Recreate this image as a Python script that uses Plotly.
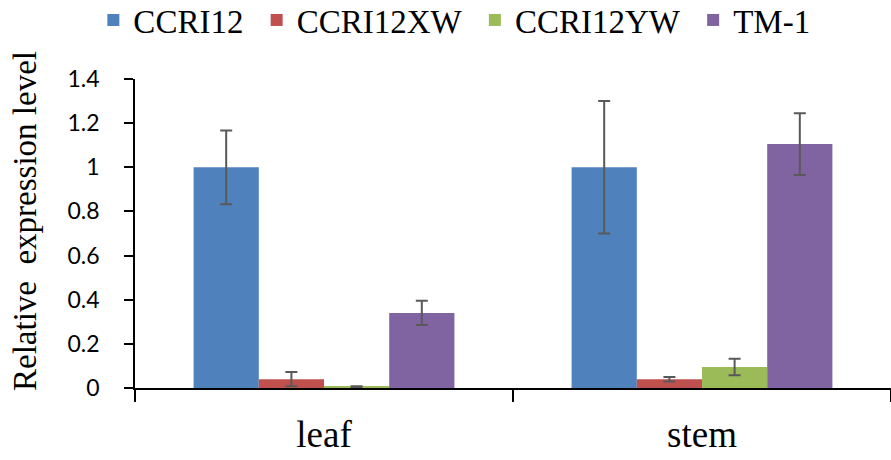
import plotly.graph_objects as go

categories = ["leaf", "stem"]
series_names = ["CCRI12", "CCRI12XW", "CCRI12YW", "TM-1"]
values = {
    "CCRI12": [1.0, 1.0],
    "CCRI12XW": [0.04, 0.04],
    "CCRI12YW": [0.005, 0.095],
    "TM-1": [0.34, 1.105],
}
errors = {
    "CCRI12": [0.167, 0.30],
    "CCRI12XW": [0.032, 0.01],
    "CCRI12YW": [0.003, 0.037],
    "TM-1": [0.055, 0.14],
}
colors = {
    "CCRI12": "#4F81BD",
    "CCRI12XW": "#C0504D",
    "CCRI12YW": "#9BBB59",
    "TM-1": "#8064A2",
}
y_ticks = [0, 0.2, 0.4, 0.6, 0.8, 1.0, 1.2, 1.4]
y_tick_labels = ["0", "0.2", "0.4", "0.6", "0.8", "1", "1.2", "1.4"]
y_title = "Relative  expression level"

SERIF = "Liberation Serif, Times New Roman, serif"

fig = go.Figure()
for name in series_names:
    fig.add_trace(go.Bar(
        name=name + "\u00a0",
        x=categories,
        y=values[name],
        marker=dict(color=colors[name], line=dict(width=0)),
        error_y=dict(type="data", array=errors[name], color="#595959",
                     thickness=2, width=6, visible=True),
    ))

fig.update_layout(
    width=891, height=460,
    barmode="group",
    bargap=0.31,
    bargroupgap=0,
    plot_bgcolor="white",
    paper_bgcolor="white",
    margin=dict(l=135, r=0, t=79, b=72, autoexpand=False),
    showlegend=True,
    legend=dict(
        orientation="h",
        xref="container", yref="container",
        x=0.515, y=1 - 20 / 460, xanchor="center", yanchor="middle",
        font=dict(family=SERIF, size=33, color="black"),
        itemwidth=30,
        tracegroupgap=0,
    ),
    xaxis=dict(
        type="category",
        range=[-0.5, 1.5],
        automargin=False,
        showline=True, linecolor="black", linewidth=2,
        ticks="outside", tickson="boundaries", ticklen=12, tickcolor="black", tickwidth=1.5,
        tickfont=dict(family=SERIF, size=37, color="black"),
        ticklabelstandoff=13,
        showgrid=False,
        zeroline=False,
    ),
    yaxis=dict(
        range=[0, 1.4],
        automargin=False,
        tickvals=y_ticks, ticktext=y_tick_labels,
        showline=True, linecolor="black", linewidth=1.5,
        ticks="outside", ticklen=9, tickcolor="black", tickwidth=1.5,
        tickfont=dict(family="Lato", size=23, color="black"),
        ticklabelstandoff=20,
        showgrid=False,
        zeroline=False,
    ),
    annotations=[dict(
        text=y_title, textangle=-90, showarrow=False,
        xref="paper", yref="paper",
        x=(25 - 135) / 756, y=(388 - 221) / 309,
        xanchor="center", yanchor="middle",
        font=dict(family=SERIF, size=33, color="black"),
    )],
)

fig.write_html("out.html", config={"displayModeBar": False},
               post_script="document.body.style.margin='0';")
